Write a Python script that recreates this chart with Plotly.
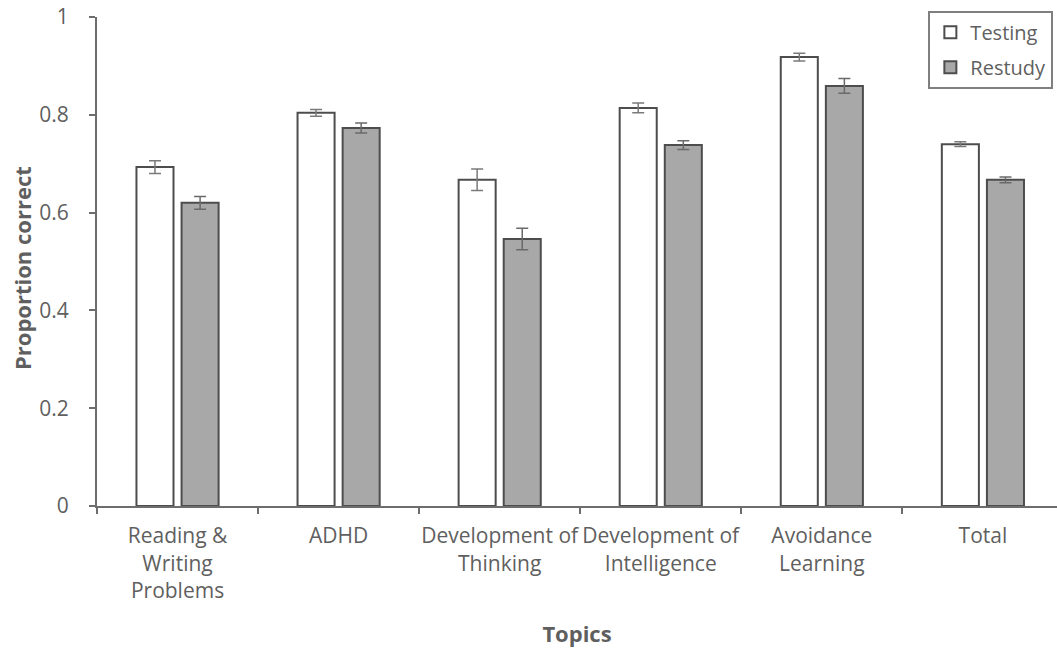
import plotly.graph_objects as go

# Topic categories (x-axis) and their tick labels
topics = ["Reading & Writing Problems", "ADHD", "Development of Thinking",
          "Development of Intelligence", "Avoidance Learning", "Total"]
tick_labels = ["Reading &<br>Writing<br>Problems", "ADHD", "Development of<br>Thinking",
               "Development of<br>Intelligence", "Avoidance<br>Learning", "Total"]

# Proportion correct per condition, with standard errors
testing_mean = [0.693, 0.804, 0.667, 0.814, 0.918, 0.740]
testing_se = [0.013, 0.007, 0.022, 0.010, 0.008, 0.005]
restudy_mean = [0.620, 0.773, 0.546, 0.738, 0.859, 0.667]
restudy_se = [0.013, 0.010, 0.022, 0.009, 0.015, 0.006]

FONT = "Open Sans, Lato, sans-serif"
TEXT_GRAY = "#5f5f5f"
EDGE = "#4d4d4d"
AXIS = "#6d6d6d"

fig = go.Figure()
fig.add_trace(go.Bar(
    x=topics, y=testing_mean, name="Testing", legendgroup="t",
    width=0.23, offset=-0.255,
    marker=dict(color="white", line=dict(color=EDGE, width=2)),
    error_y=dict(type="data", array=testing_se, color="#7a7a7a", thickness=1.5, width=6),
))
fig.add_trace(go.Bar(
    x=topics, y=restudy_mean, name="Restudy", legendgroup="r",
    width=0.23, offset=0.025,
    marker=dict(color="#a8a8a8", line=dict(color=EDGE, width=2)),
    error_y=dict(type="data", array=restudy_se, color="#6a6a6a", thickness=1.5, width=6),
))

fig.update_layout(
    width=1057, height=650,
    margin=dict(l=97, r=0, t=17, b=144),
    paper_bgcolor="white", plot_bgcolor="white",
    font=dict(family=FONT, size=21, color=TEXT_GRAY),
    barmode="overlay",
    showlegend=True,
    legend=dict(
        x=0.866, y=1.013, xanchor="left", yanchor="top",
        bordercolor="#7f7f7f", borderwidth=2, bgcolor="white",
        font=dict(family=FONT, size=20, color=TEXT_GRAY),
        itemwidth=30, tracegroupgap=6,
    ),
    annotations=[dict(
        text="<b>Proportion correct</b>", textangle=-90,
        xref="paper", yref="paper", x=-0.078, y=0.487,
        xanchor="center", yanchor="middle", showarrow=False,
        font=dict(family=FONT, size=22, color=TEXT_GRAY),
    )],
)

fig.update_xaxes(
    type="category", automargin=False,
    tickvals=topics, ticktext=tick_labels, tickangle=0,
    range=[-0.5, 5.46],
    showline=True, linecolor=AXIS, linewidth=2,
    ticks="outside", tickson="boundaries", ticklen=6, tickcolor=AXIS, tickwidth=2,
    ticklabelstandoff=10,
    showgrid=False, zeroline=False,
    tickfont=dict(family=FONT, size=21, color=TEXT_GRAY),
    title=dict(text="<b>Topics</b>", font=dict(family=FONT, size=22, color=TEXT_GRAY), standoff=24),
)
fig.update_yaxes(
    automargin=False,
    range=[0, 1],
    tickvals=[0, 0.2, 0.4, 0.6, 0.8, 1],
    ticktext=["0", "0.2", "0.4", "0.6", "0.8", "1"],
    showline=True, linecolor=AXIS, linewidth=2,
    ticks="outside", ticklen=6, tickcolor=AXIS, tickwidth=2,
    ticklabelstandoff=16,
    showgrid=False, zeroline=False,
    tickfont=dict(family=FONT, size=21, color=TEXT_GRAY),
)

fig.write_html("out.html")
